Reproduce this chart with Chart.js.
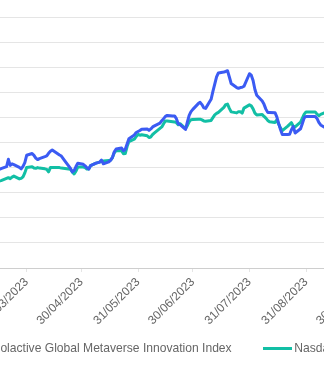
<!DOCTYPE html>
<html>
<head>
<meta charset="utf-8">
<script src="https://cdn.jsdelivr.net/npm/chart.js@4.4.1/dist/chart.umd.min.js"></script>
<style>
  html, body { margin: 0; padding: 0; background: #fff; overflow: hidden; }
  body { width: 324px; height: 378px; position: relative; font-family: 'Liberation Sans', Arial, sans-serif; }
  #wrap { position: absolute; left: -100px; top: 0; width: 520px; height: 378px; }
  #legend {
    position: absolute; left: -38.7px; top: 341px; height: 14px;
    display: flex; align-items: center; white-space: nowrap;
    font-size: 12.1px; line-height: 14px; color: #666;
  }
  #legend .item { display: flex; align-items: center; margin-right: 31.6px; }
  #legend .swatch { width: 29px; height: 3px; margin-right: 2px; }
</style>
</head>
<body>
<div id="wrap"><canvas id="perfChart"></canvas></div>
<div id="legend"></div>
<script>
// trading days (Mon-Fri)
const dates = [
    '2023-03-14','2023-03-15','2023-03-16','2023-03-17',
    '2023-03-20','2023-03-21','2023-03-22','2023-03-23','2023-03-24',
    '2023-03-27','2023-03-28','2023-03-29','2023-03-30','2023-03-31',
    '2023-04-03','2023-04-04','2023-04-05','2023-04-06','2023-04-07',
    '2023-04-10','2023-04-11','2023-04-12','2023-04-13','2023-04-14',
    '2023-04-17','2023-04-18','2023-04-19','2023-04-20','2023-04-21',
    '2023-04-24','2023-04-25','2023-04-26','2023-04-27','2023-04-28',
    '2023-05-01','2023-05-02','2023-05-03','2023-05-04','2023-05-05',
    '2023-05-08','2023-05-09','2023-05-10','2023-05-11','2023-05-12',
    '2023-05-15','2023-05-16','2023-05-17','2023-05-18','2023-05-19',
    '2023-05-22','2023-05-23','2023-05-24','2023-05-25','2023-05-26',
    '2023-05-29','2023-05-30','2023-05-31','2023-06-01','2023-06-02',
    '2023-06-05','2023-06-06','2023-06-07','2023-06-08','2023-06-09',
    '2023-06-12','2023-06-13','2023-06-14','2023-06-15','2023-06-16',
    '2023-06-19','2023-06-20','2023-06-21','2023-06-22','2023-06-23',
    '2023-06-26','2023-06-27','2023-06-28','2023-06-29','2023-06-30',
    '2023-07-03','2023-07-04','2023-07-05','2023-07-06','2023-07-07',
    '2023-07-10','2023-07-11','2023-07-12','2023-07-13','2023-07-14',
    '2023-07-17','2023-07-18','2023-07-19','2023-07-20','2023-07-21',
    '2023-07-24','2023-07-25','2023-07-26','2023-07-27','2023-07-28',
    '2023-07-31','2023-08-01','2023-08-02','2023-08-03','2023-08-04',
    '2023-08-07','2023-08-08','2023-08-09','2023-08-10','2023-08-11',
    '2023-08-14','2023-08-15','2023-08-16','2023-08-17','2023-08-18',
    '2023-08-21','2023-08-22','2023-08-23','2023-08-24','2023-08-25',
    '2023-08-28','2023-08-29','2023-08-30','2023-08-31','2023-09-01',
    '2023-09-04','2023-09-05','2023-09-06','2023-09-07','2023-09-08',
    '2023-09-11','2023-09-12'
];

const solactive = [
    98.9, 99.1, 99.3, 99.6,
    100.4, 103.3, 100.9, 101.5, 101.2,
    100.1, 99.5, 100.5, 102.0, 104.9,
    105.6, 104.9, 103.8, 103.2, 103.6,
    104.4, 104.7, 105.7, 106.5, 107.0,
    105.5, 105.0, 104.6, 103.6, 102.6,
    99.7, 98.3, 98.8, 100.4, 101.7,
    101.3, 100.7, 99.9, 99.4, 100.8,
    101.8, 102.0, 102.2, 103.0, 101.5,
    102.3, 103.0, 104.1, 106.3, 107.4,
    107.8, 106.7, 107.3, 109.4, 111.5,
    113.0, 114.0, 114.4, 114.8, 115.3,
    115.4, 114.8, 115.4, 116.2, 116.6,
    117.7, 118.7, 119.5, 120.4, 120.8,
    120.6, 120.6, 119.5, 117.5, 117.1,
    115.2, 118.1, 120.8, 122.3, 123.2,
    125.5, 126.0, 125.1, 123.8, 123.6,
    127.2, 130.4, 133.3, 136.1, 137.7,
    138.1, 138.3, 138.6, 136.1, 133.5,
    131.9, 131.6, 131.9, 132.0, 132.4,
    137.4, 136.8, 134.7, 131.1, 128.8,
    126.5, 125.2, 123.3, 122.0, 122.0,
    121.9, 120.2, 117.6, 115.2, 113.2,
    113.2, 113.3, 115.1, 116.4, 113.8,
    115.5, 117.6, 119.8, 120.4, 120.4,
    120.4, 120.4, 119.6, 118.0, 117.0,
    115.7, 115.5
];

const nasdaq = [
    94.3, 94.5, 94.6, 94.8,
    95.7, 96.0, 95.6, 96.2, 96.6,
    95.5, 95.7, 96.3, 97.9, 100.0,
    100.3, 99.8, 99.7, 100.0, 99.8,
    99.5, 99.3, 98.3, 100.0, 100.0,
    100.0, 100.0, 99.8, 99.7, 99.6,
    99.3, 98.3, 97.5, 98.6, 100.2,
    100.2, 100.0, 99.4, 99.4, 100.8,
    101.8, 102.0, 102.2, 102.4, 102.6,
    102.8, 103.0, 104.0, 105.9, 106.8,
    106.7, 105.5, 105.6, 108.4, 110.4,
    111.3, 112.4, 113.2, 112.9, 113.1,
    112.7, 112.0, 112.2, 113.2, 113.8,
    115.6, 116.2, 117.5, 118.6, 118.6,
    118.3, 118.2, 117.9, 117.1, 117.5,
    115.5, 116.7, 118.2, 119.1, 119.2,
    119.3, 119.3, 119.0, 118.6, 118.5,
    118.8, 119.9, 121.0, 121.6, 122.0,
    124.0, 125.1, 125.3, 123.6, 122.2,
    121.8, 122.3, 122.3, 121.7, 123.7,
    125.0, 124.6, 123.4, 121.7, 121.0,
    121.2, 120.4, 119.7, 118.8, 118.3,
    118.0, 119.0, 117.3, 115.8, 114.7,
    116.5, 117.2, 117.9, 116.4, 116.2,
    118.1, 119.7, 121.3, 122.2, 122.2,
    122.2, 122.2, 121.3, 120.7, 121.2,
    122.1, 122.1
];

// month-end ticks on the date axis
const tickLabels = ['31/03/2023', '30/04/2023', '31/05/2023', '30/06/2023', '31/07/2023', '31/08/2023', '30/09/2023'];

const seriesNames = ['Solactive Global Metaverse Innovation Index', 'Nasdaq 100'];
const seriesColors = ['#3b5bf3', '#12bfa5'];

// dates -> day numbers for the linear x axis
const isoDay = s => Date.UTC(+s.slice(0, 4), +s.slice(5, 7) - 1, +s.slice(8, 10)) / 864e5;
const dmyDay = s => Date.UTC(+s.slice(6, 10), +s.slice(3, 5) - 1, +s.slice(0, 2)) / 864e5;

const tickDays = tickLabels.map(dmyDay);
const labelForDay = {};
tickDays.forEach((d, i) => { labelForDay[d] = tickLabels[i]; });

Chart.defaults.font.family = "'Liberation Sans', Arial, sans-serif";
Chart.defaults.font.size = 12;
Chart.defaults.color = '#666';

const makeSet = (idx, values) => ({
    label: seriesNames[idx],
    data: dates.map((d, i) => ({ x: isoDay(d), y: values[i] })),
    borderColor: seriesColors[idx],
    backgroundColor: seriesColors[idx],
    borderWidth: 3,
    borderJoinStyle: 'round',
    pointRadius: 0,
    tension: 0,
    fill: false
});

const ctx = document.getElementById('perfChart').getContext('2d');
const perfChart = new Chart(ctx, {
    type: 'line',
    data: {
        datasets: [makeSet(0, solactive), makeSet(1, nasdaq)]
    },
    options: {
        responsive: true,
        maintainAspectRatio: false,
        animation: false,
        layout: {
            padding: { top: 17, bottom: 40, left: 21, right: 19 }
        },
        plugins: {
            tooltip: { enabled: false },
            legend: { display: false }
        },
        scales: {
            x: {
                type: 'linear',
                min: isoDay('2023-03-06'),
                max: isoDay('2023-10-22'),
                afterBuildTicks: axis => {
                    axis.ticks = tickDays.map(v => ({ value: v }));
                },
                afterFit: axis => {
                    axis.height = 70;
                },
                ticks: {
                    autoSkip: false,
                    minRotation: 45,
                    maxRotation: 45,
                    callback: value => labelForDay[value] || ''
                },
                grid: {
                    drawOnChartArea: false,
                    tickLength: 4,
                    color: 'rgba(0,0,0,0.1)'
                },
                border: { color: 'rgba(0,0,0,0.1)' }
            },
            y: {
                min: 60,
                max: 160,
                afterFit: axis => {
                    axis.width = 60;
                },
                ticks: { display: false, stepSize: 10 },
                grid: { drawTicks: false, color: 'rgba(0,0,0,0.1)' },
                border: { display: false }
            }
        }
    }
});

// legend row under the axis, built from the datasets
const legendEl = document.getElementById('legend');
perfChart.data.datasets.forEach(ds => {
    const item = document.createElement('span');
    item.className = 'item';
    const swatch = document.createElement('span');
    swatch.className = 'swatch';
    swatch.style.background = ds.borderColor;
    const text = document.createElement('span');
    text.textContent = ds.label;
    item.appendChild(swatch);
    item.appendChild(text);
    legendEl.appendChild(item);
});
</script>
</body>
</html>
